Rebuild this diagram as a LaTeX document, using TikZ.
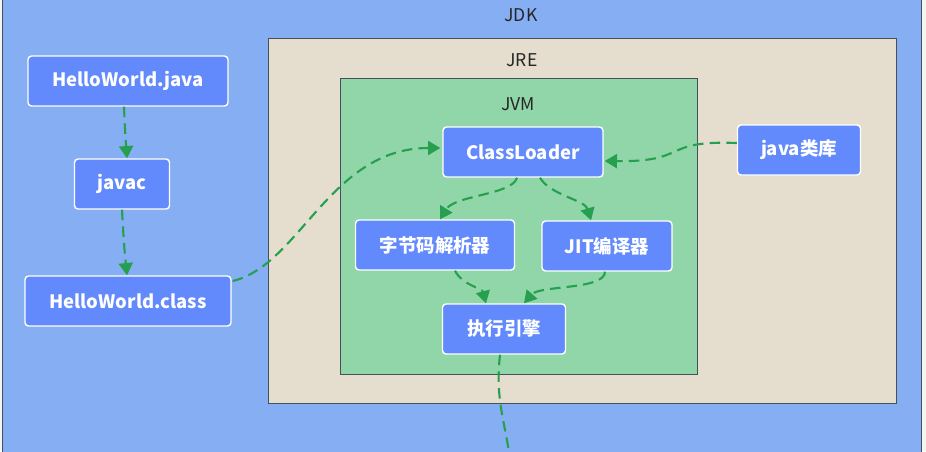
\documentclass[tikz,border=0pt]{standalone}
\usepackage{fontspec}
\newfontfamily\cjk{Noto Sans CJK SC}
\usetikzlibrary{arrows.meta,calc}

\definecolor{jdkblue}{RGB}{134,174,243}
\definecolor{jrebeige}{RGB}{229,222,207}
\definecolor{jvmgreen}{RGB}{144,214,169}
\definecolor{boxblue}{RGB}{98,138,252}
\definecolor{flowgreen}{RGB}{38,160,78}
\definecolor{framegrey}{RGB}{70,80,90}

\tikzset{
  stage/.style={draw=white, thick, fill=boxblue, rounded corners=2pt, text=white,
    font=\cjk\bfseries\fontsize{10.5}{13}\selectfont, inner sep=0pt, minimum height=1cm},
  flow/.style={flowgreen, line width=1.2pt, dash pattern=on 6pt off 3.5pt, -{Triangle[length=7pt,width=8pt]}},
  layer/.style={draw=framegrey, thin},
  tag/.style={font=\cjk\fontsize{10}{12}\selectfont, text=black!85}
}

\begin{document}
\begin{tikzpicture}[x=0.02cm, y=-0.02cm]
    \useasboundingbox (0,0) rectangle (926,451);
    \fill [white!92!gray] (0,0) rectangle (926,451);
    \draw [layer, fill=jdkblue] (2,-5) rectangle (921,460);
    \draw [layer, fill=jrebeige] (268,38) rectangle (896,403);
    \draw [layer, fill=jvmgreen] (340,78) rectangle (697,374);
    \node [tag] (jdk) at (521,15) {JDK};
    \node [tag] (jre) at (522,60) {JRE};
    \node [tag] (jvm) at (518,104) {JVM};

    \node [stage, minimum width=4cm] (src) at (128,81) {HelloWorld.java};
    \node [stage, minimum width=1.9cm] (javac) at (122,184) {javac};
    \node [stage, minimum width=4.12cm] (cls) at (128,301) {HelloWorld.class};
    \node [stage, minimum width=3.2cm] (loader) at (523,152) {ClassLoader};
    \node [stage, minimum width=2.46cm] (lib) at (799,150) {java类库};
    \node [stage, minimum width=3.18cm] (parser) at (435,245) {字节码解析器};
    \node [stage, minimum width=2.6cm] (jit) at (607,246) {JIT编译器};
    \node [stage, minimum width=2.46cm] (engine) at (504,329) {执行引擎};
    \coordinate (down) at (510,460);

    \draw [flow] ($(src.south)+(-4,0)$) .. controls (125,130) .. ($(javac.north)+(5,0)$);
    \draw [flow] (javac.south) .. controls (124,245) .. ($(cls.north)+(-1,0)$);
    \draw [flow] ($(cls.east)+(1,-20)$) .. controls (300,265) and (330,148) .. ($(loader.west)+(-2,-4)$);
    \draw [flow] ($(lib.west)+(0,-7)$) .. controls (660,140) and (690,162) .. ($(loader.east)+(1,9)$);
    \draw [flow] ($(loader.south)+(-6,0)$) .. controls (512,195) and (455,195) .. ($(parser.north)+(5,0)$);
    \draw [flow] ($(loader.south)+(17,0)$) .. controls (550,195) and (585,200) .. ($(jit.north)+(-16,0)$);
    \draw [flow] ($(parser.south)+(20,0)$) .. controls (462,285) and (482,288) .. ($(engine.north)+(-18,0)$);
    \draw [flow] ($(jit.south)+(-2,0)$) .. controls (605,290) and (540,285) .. ($(engine.north)+(20,0)$);
    \draw [flow, -] ($(engine.south)+(-4,0)$) .. controls (495,400) and (505,420) .. (down);
\end{tikzpicture}
\end{document}
